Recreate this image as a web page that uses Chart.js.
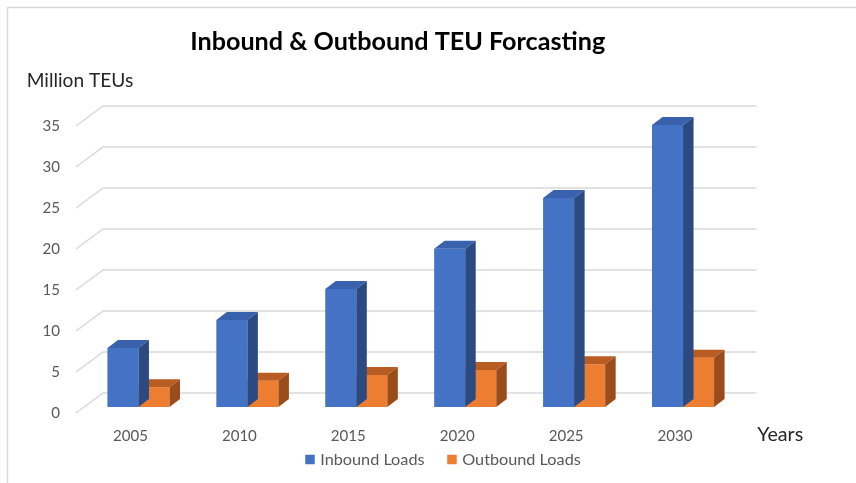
<!DOCTYPE html>
<html><head><meta charset="utf-8">
<script src="https://cdn.jsdelivr.net/npm/chart.js@4/dist/chart.umd.min.js"></script>
<style>html,body{margin:0;padding:0;background:#fff;}canvas{display:block;}</style>
</head><body>
<canvas id="c" width="856" height="483"></canvas>
<script>
// ---- data ----
const chartTitle = 'Inbound & Outbound TEU Forcasting';
const yAxisTitle = 'Million TEUs';
const xAxisTitle = 'Years';
const categories = ['2005', '2010', '2015', '2020', '2025', '2030'];
const seriesNames = ['Inbound Loads', 'Outbound Loads'];
const inboundLoads = [7.2, 10.6, 14.4, 19.3, 25.5, 34.4];
const outboundLoads = [2.4, 3.2, 3.9, 4.5, 5.2, 6.0];
const yTicks = [0, 5, 10, 15, 20, 25, 30, 35];

// ---- styles ----
const FONT = 'Lato, "Open Sans", sans-serif';
const faceColors = [
  { front: '#4472C4', top: '#3A62AC', side: '#2C4A82' },
  { front: '#ED7D31', top: '#B85C22', side: '#9A4D1B' }
];
const DEPTH = { dx: 10.5, dy: -8 };
const WALL_FRONT = { dx: -8, dy: 6 };
const WALL_BACK = { dx: 19, dy: -14 };

const mctx = document.createElement('canvas').getContext('2d');
function fitSize(text, weight, target) {
  mctx.font = weight + ' 100px ' + FONT;
  return 100 * target / mctx.measureText(text).width;
}
const tickSize = (fitSize('2005', 'normal', 34.6) + fitSize('35', 'normal', 17.7)) / 2;

function drawFitText(ctx, text, weight, targetW, x, y, color, align) {
  const s = fitSize(text, weight, targetW);
  ctx.font = weight + ' ' + s.toFixed(2) + 'px ' + FONT;
  ctx.fillStyle = color;
  ctx.textAlign = align || 'left';
  ctx.textBaseline = 'alphabetic';
  ctx.fillText(text, x, y);
}

const threeD = {
  id: 'threeD',
  beforeDraw(chart) {
    const ctx = chart.ctx;
    ctx.save();
    ctx.fillStyle = '#fff';
    ctx.fillRect(0, 0, chart.width, chart.height);
    ctx.strokeStyle = '#d9d9d9';
    ctx.lineWidth = 1.5;
    ctx.beginPath();
    ctx.moveTo(7.5, chart.height);
    ctx.lineTo(7.5, 7.5);
    ctx.lineTo(chart.width, 7.5);
    ctx.stroke();
    ctx.restore();
  },
  beforeDatasetsDraw(chart) {
    const ctx = chart.ctx, ca = chart.chartArea, ys = chart.scales.y;
    ctx.save();
    ctx.strokeStyle = '#d9d9d9';
    ctx.lineWidth = 1.5;
    ys.ticks.forEach(t => {
      const yb = ys.getPixelForValue(t.value);
      ctx.beginPath();
      ctx.moveTo(ca.left + WALL_FRONT.dx, yb + WALL_FRONT.dy);
      ctx.lineTo(ca.left + WALL_BACK.dx, yb + WALL_BACK.dy);
      ctx.lineTo(ca.right + WALL_BACK.dx, yb + WALL_BACK.dy);
      ctx.stroke();
    });
    ctx.restore();
  },
  afterDatasetDraw(chart, args) {
    const ctx = chart.ctx;
    const col = faceColors[args.index];
    ctx.save();
    args.meta.data.forEach(el => {
      const p = el.getProps(['x', 'y', 'base', 'width'], true);
      const l = p.x - p.width / 2, r = p.x + p.width / 2, t = p.y, b = p.base;
      ctx.fillStyle = col.top;
      ctx.beginPath();
      ctx.moveTo(l, t); ctx.lineTo(l + DEPTH.dx, t + DEPTH.dy);
      ctx.lineTo(r + DEPTH.dx, t + DEPTH.dy); ctx.lineTo(r, t);
      ctx.closePath(); ctx.fill();
      ctx.fillStyle = col.side;
      ctx.beginPath();
      ctx.moveTo(r, t); ctx.lineTo(r + DEPTH.dx, t + DEPTH.dy);
      ctx.lineTo(r + DEPTH.dx, b + DEPTH.dy); ctx.lineTo(r, b);
      ctx.closePath(); ctx.fill();
    });
    ctx.restore();
  },
  afterDraw(chart) {
    const ctx = chart.ctx;
    ctx.save();
    drawFitText(ctx, chartTitle, 'bold', 415, 397.7, 49.5, '#000', 'center');
    drawFitText(ctx, yAxisTitle, 'normal', 106.6, 26.7, 87, '#262626', 'left');
    drawFitText(ctx, xAxisTitle, 'normal', 46, 757.3, 441, '#262626', 'left');
    // legend
    const ls = fitSize(seriesNames[0], 'normal', 104.3);
    ctx.font = 'normal ' + ls.toFixed(2) + 'px ' + FONT;
    const box = 9.5, gap = 5.5, between = 22.7;
    const ds = chart.data.datasets;
    const widths = ds.map(d => box + gap + ctx.measureText(d.label).width);
    const total = widths.reduce((a, b) => a + b, 0) + between * (ds.length - 1);
    let x = 443 - total / 2;
    const yc = 459.5;
    ds.forEach((d, i) => {
      ctx.fillStyle = d.backgroundColor;
      ctx.fillRect(x, yc - box / 2, box, box);
      ctx.fillStyle = '#595959';
      ctx.textAlign = 'left';
      ctx.textBaseline = 'middle';
      ctx.fillText(d.label, x + box + gap, yc + 0.5);
      x += widths[i] + between;
    });
    ctx.restore();
  }
};

new Chart(document.getElementById('c'), {
  type: 'bar',
  data: {
    labels: categories,
    datasets: [
      { label: seriesNames[0], data: inboundLoads, backgroundColor: faceColors[0].front, borderWidth: 0 },
      { label: seriesNames[1], data: outboundLoads, backgroundColor: faceColors[1].front, borderWidth: 0 }
    ]
  },
  options: {
    responsive: false,
    animation: false,
    devicePixelRatio: 1,
    categoryPercentage: 0.57,
    barPercentage: 1.0,
    layout: { padding: { top: 120, right: 118.5, left: 0, bottom: 0 } },
    plugins: { legend: { display: false }, tooltip: { enabled: false }, title: { display: false } },
    scales: {
      x: {
        grid: { display: false, drawTicks: false },
        border: { display: false },
        ticks: { color: '#595959', font: { family: FONT, size: tickSize }, padding: 20, labelOffset: -8, maxRotation: 0 },
        afterFit(s) { s.height = 76; }
      },
      y: {
        min: 0, max: 35,
        grid: { display: false, drawTicks: false },
        border: { display: false },
        ticks: { color: '#595959', font: { family: FONT, size: tickSize }, padding: 24, labelOffset: 6 },
        afterBuildTicks(s) { s.ticks = yTicks.map(v => ({ value: v })); },
        afterFit(s) { s.width = 84; }
      }
    }
  },
  plugins: [threeD]
});
</script>
</body></html>
